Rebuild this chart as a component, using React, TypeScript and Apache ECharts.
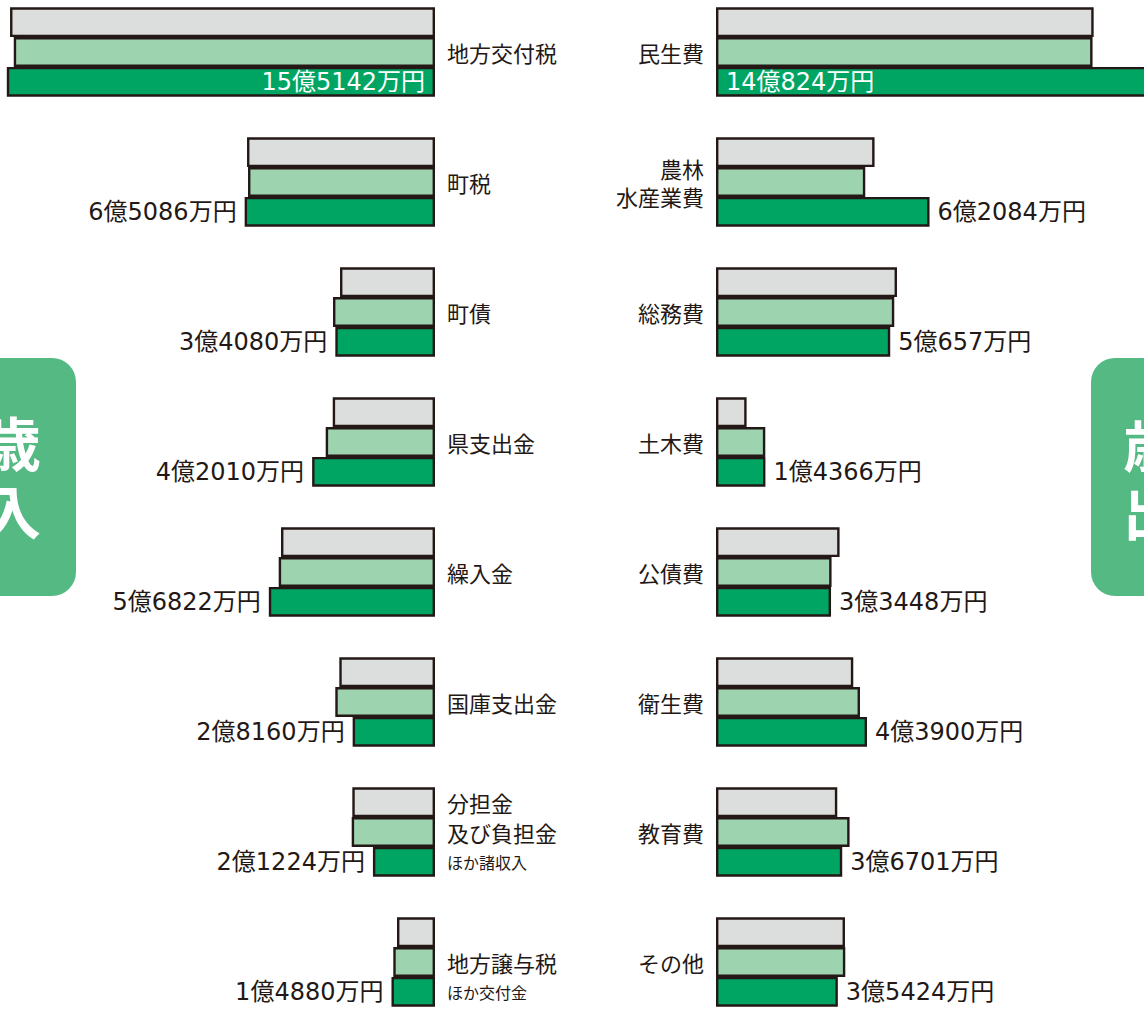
import React, { useEffect, useRef } from "react";
import * as echarts from "echarts";

// ---- data (万円) ----
const revenueCategories = ["地方交付税", "町税", "町債", "県支出金", "繰入金", "国庫支出金", "分担金及び負担金ほか諸収入", "地方譲与税ほか交付金"];
const revenueTwoYearsAgo = [145300, 64270, 32480, 34970, 52650, 32720, 28270, 12990];
const revenueLastYear = [144030, 63930, 34870, 37370, 53440, 34090, 28480, 14260];
const revenueThisYear = [155142, 65086, 34080, 42010, 56822, 28160, 21224, 14880];

const expenseCategories = ["民生費", "農林水産業費", "総務費", "土木費", "公債費", "衛生費", "教育費", "その他"];
const expenseTwoYearsAgo = [109800, 46100, 52620, 8900, 35930, 39910, 35260, 37500];
const expenseLastYear = [109480, 43400, 51830, 14330, 33600, 41860, 38840, 37590];
const expenseThisYear = [140824, 62084, 50657, 14366, 33448, 43900, 36701, 35424];

const seriesNames = ["前々年度", "前年度", "今年度"];

// how the category names are broken into lines
const categoryDisplay: Record<string, string> = {
  "分担金及び負担金ほか諸収入": "{a|分担金}\n{a|及び負担金}\n{s|ほか諸収入}",
  "地方譲与税ほか交付金": "{a|}\n{a|地方譲与税}\n{s|ほか交付金}",
  "農林水産業費": "{b|農林}\n{b|水産業費}",
};

const COLORS = ["#dcdddd", "#9dd3ae", "#00a563"];
const BORDER = "#231815";
const TEXT = "#231815";
const BOX = "#55b984";
const CJK = '"Noto Sans CJK JP", "Noto Sans", sans-serif';
const NUMFONT = '"DejaVu Sans", "Noto Sans CJK JP", sans-serif';

const fmtOku = (v: number) => `${Math.floor(v / 10000)}億${v % 10000}万円`;

const BAR_W = 29.8;

function buildOption() {
  const richLabel = {
    a: { fontSize: 22, lineHeight: 30, color: TEXT, fontFamily: CJK },
    s: { fontSize: 16, lineHeight: 30, color: TEXT, fontFamily: CJK },
    b: { fontSize: 22, lineHeight: 28, color: TEXT, fontFamily: CJK },
  };
  const catFormatter = (v: string) => categoryDisplay[v] ?? `{a|${v}}`;

  const makeSeries = (
    side: number,
    values: number[],
    idx: number,
    labelSide: string,
    insideFirst: string
  ) => {
    const isCurrent = idx === 2;
    return {
      type: "bar",
      name: seriesNames[idx],
      xAxisIndex: side,
      yAxisIndex: side,
      barWidth: BAR_W,
      barGap: "0%",
      clip: true,
      itemStyle: { color: COLORS[idx], borderColor: BORDER, borderWidth: 2.4 },
      data: values.map((v, i) => {
        if (isCurrent && i === 0) {
          return {
            value: v,
            label: { show: true, position: insideFirst, color: "#ffffff", distance: 10 },
          };
        }
        return v;
      }),
      label: isCurrent
        ? {
            show: true,
            position: labelSide,
            distance: 8,
            color: TEXT,
            fontSize: 24,
            fontFamily: NUMFONT,
            formatter: (p: any) => fmtOku(p.value),
          }
        : { show: false },
    };
  };

  const boxFont = `bold 58px ${CJK}`;

  return {
    animation: false,
    backgroundColor: "#ffffff",
    grid: [
      { left: 8, width: 427, top: -13, height: 1040, containLabel: false, outerBoundsMode: "none" },
      { left: 716, width: 508, top: -13, height: 1040, containLabel: false, outerBoundsMode: "none" },
    ],
    xAxis: [
      { gridIndex: 0, type: "value", min: 0, max: 146000, inverse: true, show: false },
      { gridIndex: 1, type: "value", min: 0, max: 147700, show: false },
    ],
    yAxis: [
      {
        gridIndex: 0,
        type: "category",
        inverse: true,
        position: "right",
        data: revenueCategories,
        axisLine: { show: false },
        axisTick: { show: false },
        axisLabel: { margin: 12, formatter: catFormatter, rich: richLabel, lineHeight: 30, align: "left" },
      },
      {
        gridIndex: 1,
        type: "category",
        inverse: true,
        position: "left",
        data: expenseCategories,
        axisLine: { show: false },
        axisTick: { show: false },
        axisLabel: { margin: 12, formatter: catFormatter, rich: richLabel, lineHeight: 30, align: "right" },
      },
    ],
    series: [
      makeSeries(0, revenueTwoYearsAgo, 0, "left", "insideRight"),
      makeSeries(0, revenueLastYear, 1, "left", "insideRight"),
      makeSeries(0, revenueThisYear, 2, "left", "insideRight"),
      makeSeries(1, expenseTwoYearsAgo, 0, "right", "insideLeft"),
      makeSeries(1, expenseLastYear, 1, "right", "insideLeft"),
      makeSeries(1, expenseThisYear, 2, "right", "insideLeft"),
    ],
    graphic: [
      { type: "rect", shape: { x: -30, y: 358, width: 106, height: 238, r: 24 }, style: { fill: BOX }, z: 10 },
      {
        type: "text", x: 12, y: 475, z: 11,
        style: { text: "歳\n入", fill: "#fff", font: boxFont, lineHeight: 68, align: "center", verticalAlign: "middle" },
      },
      { type: "rect", shape: { x: 1091, y: 358, width: 120, height: 238, r: 24 }, style: { fill: BOX }, z: 10 },
      {
        type: "text", x: 1152, y: 476, z: 11,
        style: { text: "歳\n出", fill: "#fff", font: boxFont, lineHeight: 68, align: "center", verticalAlign: "middle" },
      },
    ],
  };
}

export default function App() {
  const ref = useRef<HTMLDivElement>(null);
  useEffect(() => {
    if (!ref.current) return;
    const chart = echarts.init(ref.current, undefined, { renderer: "svg" });
    chart.setOption(buildOption() as any);
    return () => chart.dispose();
  }, []);
  return (
    <div
      ref={ref}
      style={{ position: "absolute", left: 0, top: 0, width: 1144, height: 1017, background: "#fff" }}
    />
  );
}
